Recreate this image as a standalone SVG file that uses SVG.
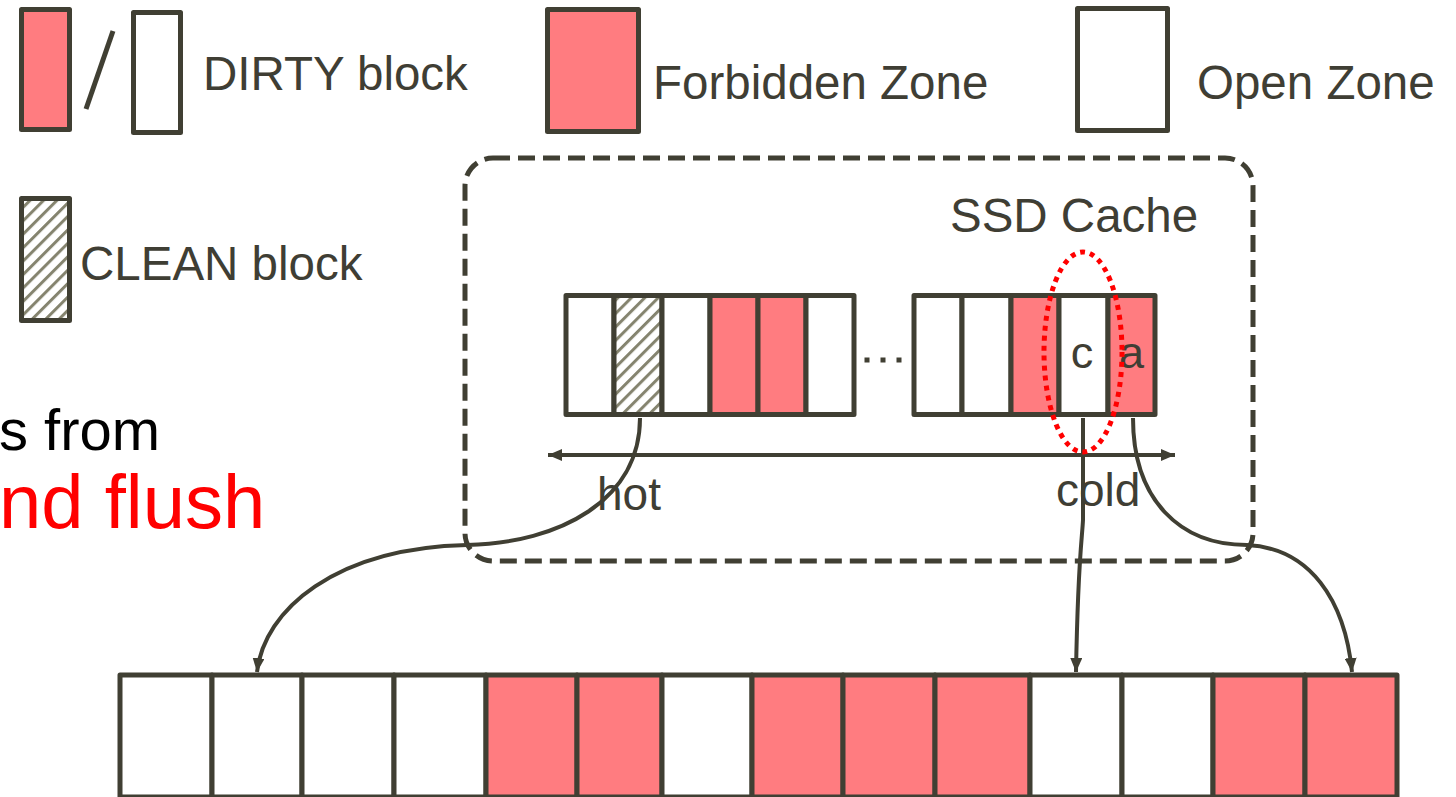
<svg xmlns="http://www.w3.org/2000/svg" width="1456" height="797" viewBox="0 0 1456 797">
<style>
.t{font-family:"Liberation Sans",Arial,sans-serif;fill:#3f3e34}
.c{stroke:#403f33;stroke-width:5;stroke-linejoin:round}
.w{fill:#ffffff}
.r{fill:#ff7c80}
.h{fill:url(#hatch)}
.ln{fill:none;stroke:#403f33;stroke-width:4}
</style>
<defs>
<pattern id="hatch" patternUnits="userSpaceOnUse" width="9.5" height="9.5" patternTransform="rotate(45)">
<rect width="9.5" height="9.5" fill="#ffffff"/>
<rect x="0" y="0" width="3" height="9.5" fill="#85846f"/>
</pattern>
<marker id="ah" viewBox="0 0 14 12" refX="14" refY="6" markerWidth="14" markerHeight="12" markerUnits="userSpaceOnUse" orient="auto">
<path d="M0,0 L14,6 L0,12 Z" fill="#403f33"/>
</marker>
<marker id="ahs" viewBox="0 0 14 12" refX="0" refY="6" markerWidth="14" markerHeight="12" markerUnits="userSpaceOnUse" orient="auto">
<path d="M14,0 L0,6 L14,12 Z" fill="#403f33"/>
</marker>
</defs>
<rect width="1456" height="797" fill="#ffffff"/>

<g id="legend-dirty">
<rect class="c r" x="21.5" y="9.5" width="48" height="120"/>
<line x1="86" y1="109" x2="113" y2="31" stroke="#403f33" stroke-width="5"/>
<rect class="c w" x="133.5" y="12.5" width="47" height="120"/>
<text class="t" x="203" y="90" font-size="47.5">DIRTY block</text>
</g>
<g id="legend-clean">
<rect class="c h" x="21.5" y="198.5" width="48" height="122"/>
<text class="t" x="80" y="280" font-size="47.5">CLEAN block</text>
</g>
<g id="legend-forbidden">
<rect class="c r" x="547.5" y="9.5" width="91" height="122"/>
<text class="t" x="653" y="99" font-size="47.5">Forbidden Zone</text>
</g>
<g id="legend-open">
<rect class="c w" x="1077.5" y="8.5" width="90" height="122"/>
<text class="t" x="1197" y="99" font-size="47.5">Open Zone</text>
</g>

<g id="side-text">
<text x="-1" y="450" font-family="Liberation Sans, Arial, sans-serif" font-size="58" fill="#000000">s from</text>
<text x="-1" y="528" font-family="Liberation Sans, Arial, sans-serif" font-size="76" fill="#ff0000">nd flush</text>
</g>

<g id="ssd-cache">
<rect x="465" y="158" width="788" height="403" rx="28" ry="28" fill="none" stroke="#403f33" stroke-width="5" stroke-dasharray="17 8"/>
<text class="t" x="950" y="232" font-size="47.5">SSD Cache</text>
</g>

<g id="cache-left">
<rect class="c w" x="566" y="295.5" width="48" height="119"/>
<rect class="c h" x="614" y="295.5" width="48" height="119"/>
<rect class="c w" x="662" y="295.5" width="48" height="119"/>
<rect class="c r" x="710" y="295.5" width="48" height="119"/>
<rect class="c r" x="758" y="295.5" width="48" height="119"/>
<rect class="c w" x="806" y="295.5" width="48" height="119"/>
</g>
<g id="dots" fill="#403f33">
<rect x="864.5" y="357.5" width="5" height="5"/>
<rect x="880.5" y="357.5" width="5" height="5"/>
<rect x="896.5" y="357.5" width="5" height="5"/>
</g>
<g id="cache-right">
<rect class="c w" x="914" y="295.5" width="48" height="119"/>
<rect class="c w" x="962" y="295.5" width="49" height="119"/>
<rect class="c r" x="1011" y="295.5" width="48" height="119"/>
<rect class="c w" x="1059" y="295.5" width="49" height="119"/>
<rect class="c r" x="1108" y="295.5" width="47" height="119"/>
<text class="t" x="1082" y="368" font-size="45" text-anchor="middle">c</text>
<text class="t" x="1119" y="368" font-size="45">a</text>
</g>

<g id="disk">
<rect class="c w" x="120" y="675" width="92" height="122"/>
<rect class="c w" x="212" y="675" width="90" height="122"/>
<rect class="c w" x="302" y="675" width="92" height="122"/>
<rect class="c w" x="394" y="675" width="92" height="122"/>
<rect class="c r" x="486" y="675" width="91" height="122"/>
<rect class="c r" x="577" y="675" width="85" height="122"/>
<rect class="c w" x="662" y="675" width="90" height="122"/>
<rect class="c r" x="752" y="675" width="91" height="122"/>
<rect class="c r" x="843" y="675" width="92" height="122"/>
<rect class="c r" x="935" y="675" width="95" height="122"/>
<rect class="c w" x="1030" y="675" width="92" height="122"/>
<rect class="c w" x="1122" y="675" width="91" height="122"/>
<rect class="c r" x="1213" y="675" width="92" height="122"/>
<rect class="c r" x="1305" y="675" width="92" height="122"/>
</g>

<g id="connectors">
<line class="ln" x1="548" y1="455" x2="1175" y2="455" marker-start="url(#ahs)" marker-end="url(#ah)"/>
<path class="ln" d="M640,418 C640,500 560,543 467,545 C335,548 264,610 257,672" marker-end="url(#ah)"/>
<path class="ln" d="M1083,418 L1083,520 C1082,540 1078,560 1076,672" marker-end="url(#ah)"/>
<path class="ln" d="M1133,418 C1133,500 1180,545 1247,545 C1310,548 1345,600 1352,672" marker-end="url(#ah)"/>
</g>
<g id="hot-cold">
<text class="t" x="597" y="510" font-size="46">hot</text>
<text class="t" x="1056" y="506" font-size="46">cold</text>
</g>
<g id="highlight">
<ellipse cx="1083" cy="352" rx="39" ry="100" fill="none" stroke="#ff0000" stroke-width="5" stroke-dasharray="5 5"/>
</g>
</svg>
